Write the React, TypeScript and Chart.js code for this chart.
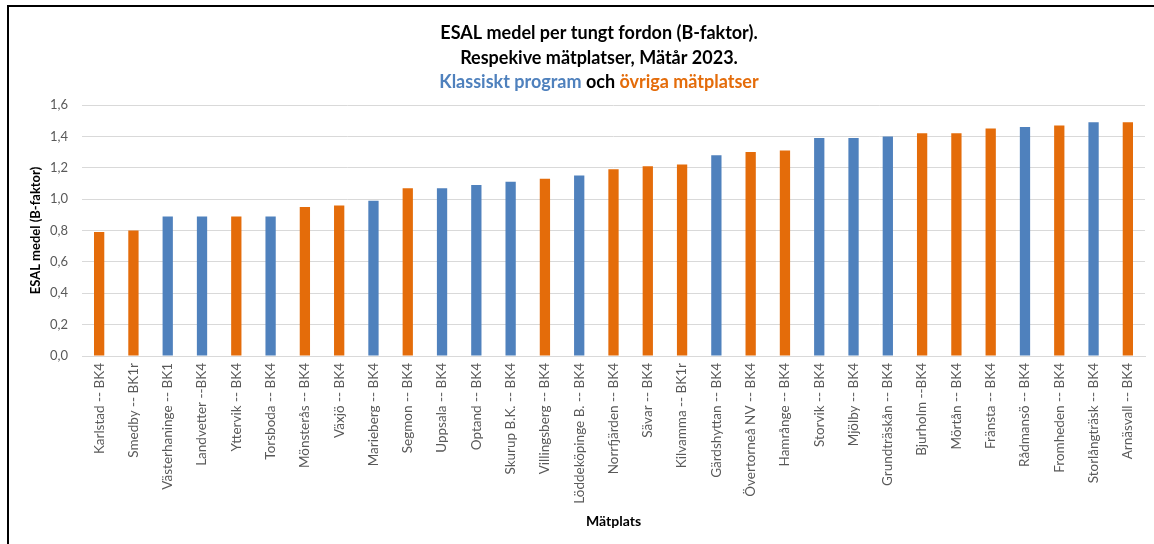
import React, { useEffect, useRef } from "react";
import { Chart, registerables } from "chart.js";

Chart.register(...registerables);

const categories = [
  "Karlstad -- BK4",
  "Smedby -- BK1r",
  "Västerhaninge -- BK1",
  "Landvetter --BK4",
  "Yttervik -- BK4",
  "Torsboda -- BK4",
  "Mönsterås -- BK4",
  "Växjö -- BK4",
  "Marieberg -- BK4",
  "Segmon -- BK4",
  "Uppsala -- BK4",
  "Optand -- BK4",
  "Skurup B.K. -- BK4",
  "Villingsberg -- BK4",
  "Löddeköpinge B. -- BK4",
  "Norrfjärden -- BK4",
  "Sävar -- BK4",
  "Kilvamma -- BK1r",
  "Gärdshyttan -- BK4",
  "Övertorneå NV -- BK4",
  "Hamrånge -- BK4",
  "Storvik -- BK4",
  "Mjölby -- BK4",
  "Grundträskån -- BK4",
  "Bjurholm --BK4",
  "Mörtån -- BK4",
  "Fränsta -- BK4",
  "Rådmansö -- BK4",
  "Fromheden -- BK4",
  "Storlångträsk -- BK4",
  "Arnäsvall -- BK4",
];

const values = [
  0.79, 0.8, 0.89, 0.89, 0.89, 0.89, 0.95, 0.96, 0.99, 1.07, 1.07, 1.09, 1.11,
  1.13, 1.15, 1.19, 1.21, 1.22, 1.28, 1.3, 1.31, 1.39, 1.39, 1.4, 1.42, 1.42,
  1.45, 1.46, 1.47, 1.49, 1.49,
];

// "K" = Klassiskt program, "O" = övriga mätplatser
const groups = [
  "O", "O", "K", "K", "O", "K", "O", "O", "K", "O", "K", "K", "K", "O", "K",
  "O", "O", "O", "K", "O", "O", "K", "K", "K", "O", "O", "O", "K", "O", "K", "O",
];

const yTicks = [0, 0.2, 0.4, 0.6, 0.8, 1.0, 1.2, 1.4, 1.6];

const titleLine1 = "ESAL medel per tungt fordon (B-faktor).";
const titleLine2 = "Respekive mätplatser, Mätår 2023.";
const titleLine3Parts = ["Klassiskt program", " och ", "övriga mätplatser"];

const BLUE = "#4F81BD";
const ORANGE = "#E46C0A";
const FONT = "Lato, 'Open Sans', sans-serif";

const titlePlugin = {
  id: "multiTitle",
  afterDraw(chart: any) {
    const ctx = chart.ctx as CanvasRenderingContext2D;
    const cx = 599;
    ctx.save();
    ctx.font = `bold 18px ${FONT}`;
    ctx.textBaseline = "middle";
    ctx.textAlign = "center";
    ctx.fillStyle = "#000000";
    ctx.fillText(titleLine1, cx, 33);
    ctx.fillText(titleLine2, cx, 58);
    const colors = [BLUE, "#000000", ORANGE];
    const widths = titleLine3Parts.map((t) => ctx.measureText(t).width);
    const total = widths.reduce((a, b) => a + b, 0);
    let x = cx - total / 2;
    ctx.textAlign = "left";
    titleLine3Parts.forEach((t, i) => {
      ctx.fillStyle = colors[i];
      ctx.fillText(t, x, 82);
      x += widths[i];
    });
    ctx.restore();
  },
};

export default function App() {
  const ref = useRef<HTMLCanvasElement | null>(null);

  useEffect(() => {
    if (!ref.current) return;
    const chart = new Chart(ref.current, {
      type: "bar",
      data: {
        labels: categories,
        datasets: [
          {
            label: "ESAL medel",
            data: values,
            backgroundColor: groups.map((g) => (g === "K" ? BLUE : ORANGE)),
            borderWidth: 0,
            categoryPercentage: 1,
            barPercentage: 0.3,
          },
        ],
      },
      options: {
        animation: false,
        responsive: false,
        maintainAspectRatio: false,
        layout: { padding: { top: 105, left: 24, right: 9, bottom: 10 } },
        plugins: {
          legend: { display: false },
          title: { display: false },
          tooltip: { enabled: false },
        },
        scales: {
          x: {
            grid: { display: false, drawTicks: false },
            border: { display: true, color: "#D9D9D9", width: 1 },
            ticks: {
              autoSkip: false,
              maxRotation: 90,
              minRotation: 90,
              padding: 7,
              color: "#595959",
              font: { family: FONT, size: 13.5 },
            },
            title: {
              display: true,
              text: "Mätplats",
              color: "#000000",
              font: { family: FONT, size: 14, weight: "bold" },
              padding: { top: 4, bottom: 4 },
            },
            afterFit(scale: any) {
              scale.height = 178;
            },
          },
          y: {
            min: 0,
            max: 1.6,
            afterBuildTicks(scale: any) {
              scale.ticks = yTicks.map((v) => ({ value: v }));
            },
            grid: { color: "#D9D9D9", drawTicks: false, lineWidth: 1 },
            border: { display: false },
            ticks: {
              padding: 14,
              color: "#595959",
              font: { family: FONT, size: 13 },
              callback: (v: any) => Number(v).toFixed(1).replace(".", ","),
            },
            title: {
              display: true,
              text: "ESAL medel (B-faktor)",
              color: "#000000",
              font: { family: FONT, size: 13, weight: "bold" },
              padding: { top: 4, bottom: 4 },
            },
            afterFit(scale: any) {
              scale.width = 58;
            },
          },
        },
      },
      plugins: [titlePlugin],
    });
    return () => chart.destroy();
  }, []);

  return (
    <div style={{ position: "absolute", left: 0, top: 0, width: 1154, height: 544, background: "#fff" }}>
      <div
        style={{
          position: "absolute",
          left: 7,
          top: 5,
          right: 0,
          bottom: 0,
          borderTop: "2px solid #000",
          borderLeft: "2px solid #000",
        }}
      />
      <canvas ref={ref} width={1154} height={544} style={{ position: "absolute", left: 0, top: 0 }} />
    </div>
  );
}
